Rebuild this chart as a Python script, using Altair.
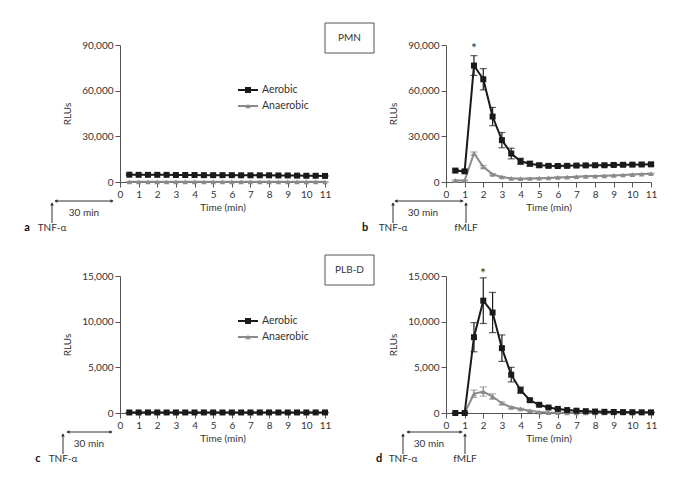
import altair as alt
import pandas as pd

# ---------------- data ----------------
time_min = [0.5, 1.0, 1.5, 2.0, 2.5, 3.0, 3.5, 4.0, 4.5, 5.0, 5.5,
            6.0, 6.5, 7.0, 7.5, 8.0, 8.5, 9.0, 9.5, 10.0, 10.5, 11.0]

# a: PMN, TNF-alpha only
a_aerobic = [4800, 4700, 4700, 4700, 4700, 4600, 4600, 4600, 4500, 4500, 4500,
             4500, 4400, 4400, 4400, 4400, 4300, 4300, 4200, 4100, 4100, 4000]
a_aerobic_err = [300, 300, 300, 300, 300, 300, 300, 300, 300, 300, 300,
                 300, 300, 300, 300, 300, 300, 300, 300, 300, 300, 300]
a_anaerobic = [100, 100, 100, 100, 100, 100, 100, 100, 100, 100, 100,
               100, 100, 100, 100, 100, 100, 100, 100, 100, 100, 100]
a_anaerobic_err = [0, 0, 0, 0, 0, 0, 0, 0, 0, 0, 0,
                   0, 0, 0, 0, 0, 0, 0, 0, 0, 0, 0]

# b: PMN, TNF-alpha then fMLF
b_aerobic = [7500, 7000, 76500, 67500, 43000, 27500, 18700, 13600, 12000, 11000, 10600,
             10500, 10600, 10800, 10900, 11000, 11000, 11200, 11300, 11400, 11500, 11600]
b_aerobic_err = [900, 800, 6500, 7000, 6000, 5000, 3500, 2000, 1500, 1200, 1000,
                 900, 900, 900, 900, 900, 900, 900, 900, 900, 900, 900]
b_anaerobic = [1000, 1000, 18700, 10000, 5000, 3300, 2400, 2200, 2300, 2500, 2700,
               3000, 3200, 3500, 3700, 3900, 4100, 4300, 4600, 4900, 5200, 5500]
b_anaerobic_err = [300, 300, 1000, 800, 500, 400, 300, 300, 300, 300, 300,
                   300, 300, 300, 300, 300, 300, 300, 300, 300, 300, 300]

# c: PLB-D, TNF-alpha only
c_aerobic = [60, 60, 60, 60, 60, 60, 60, 60, 60, 60, 60,
             60, 60, 60, 60, 60, 60, 60, 60, 60, 60, 60]
c_aerobic_err = [0, 0, 0, 0, 0, 0, 0, 0, 0, 0, 0,
                 0, 0, 0, 0, 0, 0, 0, 0, 0, 0, 0]
c_anaerobic = [30, 30, 30, 30, 30, 30, 30, 30, 30, 30, 30,
               30, 30, 30, 30, 30, 30, 30, 30, 30, 30, 30]
c_anaerobic_err = [0, 0, 0, 0, 0, 0, 0, 0, 0, 0, 0,
                   0, 0, 0, 0, 0, 0, 0, 0, 0, 0, 0]

# d: PLB-D, TNF-alpha then fMLF
d_aerobic = [0, 0, 8300, 12300, 11000, 7100, 4200, 2500, 1400, 900, 600,
             450, 320, 250, 200, 160, 130, 110, 100, 90, 80, 70]
d_aerobic_err = [0, 0, 1600, 2500, 2200, 1450, 800, 350, 150, 100, 80,
                 60, 50, 40, 30, 30, 30, 30, 30, 30, 30, 30]
d_anaerobic = [0, 0, 2100, 2350, 1800, 1070, 620, 440, 250, 100, 50,
               30, 20, 10, 0, 0, 0, 0, 0, 0, 0, 0]
d_anaerobic_err = [0, 0, 400, 500, 300, 150, 100, 80, 50, 30, 0,
                   0, 0, 0, 0, 0, 0, 0, 0, 0, 0, 0]

x_ticks = [0, 1, 2, 3, 4, 5, 6, 7, 8, 9, 10, 11]
pmn_y_ticks = [0, 30000, 60000, 90000]
plb_y_ticks = [0, 5000, 10000, 15000]
series_names = ["Aerobic", "Anaerobic"]
cell_labels = ["PMN", "PLB-D"]
panel_letters = ["a", "b", "c", "d"]
stim_labels = ["TNF-\u03b1", "fMLF", "30 min"]
x_title = "Time (min)"
y_title = "RLUs"

# ---------------- styling ----------------
W, H = 205, 137
AER_COLOR = "#1a1a1a"
AN_COLOR = "#8a8a8a"
ANN_COLOR = "#333333"
TEXT_COLOR = "#333333"
FONT = "Lato"

dummy = pd.DataFrame({"k": [0]})


def enc_x():
    return alt.X("t:Q", scale=alt.Scale(domain=[0, 11], nice=False, zero=False),
                 axis=alt.Axis(values=x_ticks, title=x_title, labelFlush=False,
                               labelOverlap=False, titlePadding=3))


def enc_y(ticks, field="v"):
    return alt.Y(f"{field}:Q", scale=alt.Scale(domain=[ticks[0], ticks[-1]], nice=False),
                 axis=alt.Axis(values=ticks, format=",.0f", title=y_title, titlePadding=9))


def series(vals, errs, color, shape, size, ticks):
    df = pd.DataFrame({"t": time_min, "v": vals,
                       "lo": [v - e for v, e in zip(vals, errs)],
                       "hi": [v + e for v, e in zip(vals, errs)]})
    base = alt.Chart(df)
    ebar = base.mark_rule(color=color, strokeWidth=1.2).encode(
        x=enc_x(), y=enc_y(ticks, "lo"), y2="hi:Q")
    cap_lo = base.mark_tick(color=color, orient="horizontal", size=7, thickness=1.2).encode(
        x=enc_x(), y=enc_y(ticks, "lo"))
    cap_hi = base.mark_tick(color=color, orient="horizontal", size=7, thickness=1.2).encode(
        x=enc_x(), y=enc_y(ticks, "hi"))
    line = base.mark_line(color=color, strokeWidth=2).encode(x=enc_x(), y=enc_y(ticks))
    pts = base.mark_point(shape=shape, filled=True, size=size, color=color, opacity=1).encode(
        x=enc_x(), y=enc_y(ticks))
    return [ebar, cap_lo, cap_hi, line, pts]


def txt(s, x, y, size=10, weight="normal", align="center", baseline="middle", color=TEXT_COLOR):
    return alt.Chart(dummy).mark_text(text=s, fontSize=size, fontWeight=weight, align=align,
                                      baseline=baseline, color=color, font=FONT).encode(
        x=alt.value(x), y=alt.value(y))


def hline(x1, x2, y, color=ANN_COLOR, width=1):
    return alt.Chart(dummy).mark_rule(color=color, strokeWidth=width).encode(
        x=alt.value(x1), x2=alt.value(x2), y=alt.value(y))


def vline(x, y1, y2, color=ANN_COLOR, width=1):
    return alt.Chart(dummy).mark_rule(color=color, strokeWidth=width).encode(
        x=alt.value(x), y=alt.value(y1), y2=alt.value(y2))


def head(x, y, shape, size=14, color=ANN_COLOR):
    return alt.Chart(dummy).mark_point(shape=shape, filled=True, size=size, color=color,
                                       opacity=1).encode(x=alt.value(x), y=alt.value(y))


def legend_layers():
    return [
        hline(118, 138, 45, AER_COLOR, 2),
        head(128, 45, "square", 36, AER_COLOR),
        txt(series_names[0], 142, 45, 10.5, align="left"),
        hline(118, 138, 61, AN_COLOR, 2),
        head(128, 61, "triangle-up", 30, AN_COLOR),
        txt(series_names[1], 142, 61, 10.5, align="left"),
    ]


def box_layers(label, y0):
    box = alt.Chart(dummy).mark_rect(fill="white", stroke="#555555", strokeWidth=1).encode(
        x=alt.value(205), x2=alt.value(254), y=alt.value(y0), y2=alt.value(y0 + 30))
    return [box, txt(label, 229.5, y0 + 15, 10)]


def stim_layers(letter, tnf_x, dbl_x1, dbl_x2, min_x, letter_x, fmlf_x=None,
                dbl_y=156, arr_top=158, arr_bot=178, min_y=168, lab_y=183):
    out = [
        hline(dbl_x1, dbl_x2, dbl_y),
        head(dbl_x1 + 1, dbl_y, "triangle-left", 14),
        head(dbl_x2 - 1, dbl_y, "triangle-right", 14),
        txt(stim_labels[2], min_x, min_y, 10),
        vline(tnf_x, arr_top, arr_bot),
        head(tnf_x, arr_top + 1, "triangle-up", 14),
        txt(stim_labels[0], tnf_x, lab_y, 10),
        txt(letter, letter_x, lab_y, 11, weight="bold", color="#111111"),
    ]
    if fmlf_x is not None:
        out += [vline(fmlf_x, arr_top, arr_bot),
                head(fmlf_x, arr_top + 1, "triangle-up", 14),
                txt(stim_labels[1], fmlf_x, lab_y, 10)]
    return out


def panel(aer, aer_err, an, an_err, ticks, extra):
    layers = (series(an, an_err, AN_COLOR, "triangle-up", 30, ticks)
              + series(aer, aer_err, AER_COLOR, "square", 36, ticks)
              + extra)
    return alt.layer(*layers).properties(width=W, height=H)


anchor = alt.Chart(dummy).mark_rect(color="white").encode(
    x=alt.value(-111), x2=alt.value(-109), y=alt.value(-36), y2=alt.value(-34))

pa = panel(a_aerobic, a_aerobic_err, a_anaerobic, a_anaerobic_err, pmn_y_ticks,
           [anchor] + legend_layers() + box_layers(cell_labels[0], -22)
           + stim_layers(panel_letters[0], -68, -65, -7, -36, -93))
pb = panel(b_aerobic, b_aerobic_err, b_anaerobic, b_anaerobic_err, pmn_y_ticks,
           [txt("*", 28, 8, 14, baseline="alphabetic")]
           + stim_layers(panel_letters[1], -53, -51, 17, -23, -81, fmlf_x=20))
pc = panel(c_aerobic, c_aerobic_err, c_anaerobic, c_anaerobic_err, plb_y_ticks,
           legend_layers() + box_layers(cell_labels[1], -21)
           + stim_layers(panel_letters[2], -57, -53, -8, -31, -82))
pd_ = panel(d_aerobic, d_aerobic_err, d_anaerobic, d_anaerobic_err, plb_y_ticks,
            [txt("*", 37, 2, 14, baseline="alphabetic")]
            + stim_layers(panel_letters[3], -43, -39, 16, -17, -67, fmlf_x=19))

chart = alt.concat(pa, pb, pc, pd_, columns=2,
                   spacing=alt.RowColnumber(row=94, column=121),
                   bounds="flush").properties(padding=0).configure(
    font=FONT
).configure_axis(
    domainColor="#555555", tickColor="#555555", labelColor=TEXT_COLOR, titleColor=TEXT_COLOR,
    labelFontSize=10, titleFontSize=10, titleFontWeight="normal", tickSize=5,
    labelPadding=2, grid=False, labelFont=FONT, titleFont=FONT
).configure_view(stroke="transparent")

chart.save("out.html", embed_options={"renderer": "svg", "actions": False})
